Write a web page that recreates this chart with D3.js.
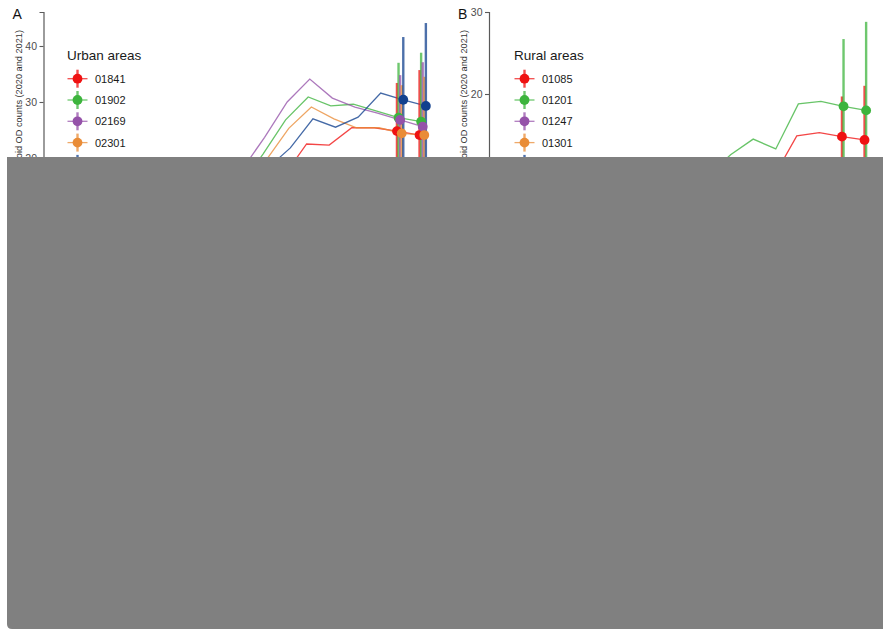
<!DOCTYPE html>
<html>
<head>
<meta charset="utf-8">
<script src="https://cdn.jsdelivr.net/npm/d3@7"></script>
<style>
  html, body { margin: 0; padding: 0; background: #ffffff; }
  svg { display: block; font-family: "Liberation Sans", Arial, Helvetica, sans-serif; }
</style>
</head>
<body>
<svg id="chart" width="883" height="629"></svg>
<script>
// Years shown on the time axis
const years = [2013, 2014, 2015, 2016, 2017, 2018, 2019, 2020, 2021];
// Years carrying an interval estimate
const intervalYears = [2020, 2021];

// Series colours (shared by both panels, in legend order)
const seriesColors = ["#ef1212", "#3db43d", "#9552a9", "#e98c37", "#11408e"];

// Panel A: urban areas
const urbanIds = ["01841", "01902", "02169", "02301", "02360"];
const urbanValues = [
  [11.0, 13.5, 16.8, 22.5, 22.3, 25.4, 25.4, 24.8, 24.1],
  [15.0, 20.7, 26.8, 30.9, 29.3, 29.6, 28.4, 27.2, 26.5],
  [17.9, 23.7, 30.0, 34.1, 30.7, 29.1, 28.0, 26.8, 25.6],
  [14.3, 19.6, 25.3, 29.1, 27.0, 25.4, 25.4, 24.4, 24.1],
  [12.0, 18.2, 21.8, 27.0, 25.5, 27.3, 31.6, 30.4, 29.3]
];
const urbanUpper = [
  [33.4, 35.7],
  [37.0, 38.8],
  [34.8, 37.1],
  [33.0, 34.5],
  [41.6, 44.1]
];
const urbanLower = [
  [16.2, 15.5],
  [17.5, 16.8],
  [18.6, 17.9],
  [15.8, 15.6],
  [19.2, 17.5]
];
const urbanTicks = [10, 20, 30, 40];

// Panel B: rural areas
const ruralIds = ["01085", "01201", "01247", "01301", "01370"];
const ruralValues = [
  [6.0, 7.0, 8.0, 9.0, 10.0, 14.9, 15.3, 14.8, 14.4],
  [8.5, 10.0, 12.6, 14.5, 13.3, 18.8, 19.1, 18.5, 18.0],
  [4.0, 5.0, 5.5, 6.0, 6.5, 7.0, 7.5, 8.0, 8.2],
  [5.0, 5.5, 6.0, 6.5, 7.0, 7.8, 8.5, 9.0, 9.3],
  [3.0, 3.5, 4.0, 4.5, 5.0, 5.5, 6.0, 6.5, 6.8]
];
const ruralUpper = [
  [19.7, 21.0],
  [26.7, 28.8],
  [11.0, 11.2],
  [11.5, 11.8],
  [10.0, 10.4]
];
const ruralLower = [
  [10.0, 9.5],
  [11.0, 10.5],
  [5.0, 5.2],
  [6.5, 6.8],
  [3.2, 3.4]
];
const ruralTicks = [10, 20, 30];

const yTitle = "Average monthly opioid OD counts (2020 and 2021)";

const svg = d3.select("#chart");
const font = "\"Liberation Sans\", Arial, Helvetica, sans-serif";

// Small horizontal offsets so groups at the same year do not overlap
const dodge = [-0.14, -0.07, 0, 0.07, 0.14];

const panels = [
  {
    tag: "A", legendTitle: "Urban areas", ids: urbanIds, values: urbanValues,
    upper: urbanUpper, lower: urbanLower, ticks: urbanTicks,
    dx: 0, axisX: 43.5, yDomain: [10, 46.07], yRange: [214, 12]
  },
  {
    tag: "B", legendTitle: "Rural areas", ids: ruralIds, values: ruralValues,
    upper: ruralUpper, lower: ruralLower, ticks: ruralTicks,
    dx: 445, axisX: 489, yDomain: [5, 30], yRange: [217, 12]
  }
];

panels.forEach(p => {
  const g = svg.append("g").attr("class", "panel panel-" + p.tag);

  const x = d3.scaleLinear().domain([2004.5, 2021.5]).range([50 + p.dx, 434 + p.dx]);
  const y = d3.scaleLinear().domain(p.yDomain).range(p.yRange);

  // y axis
  const axis = g.append("g")
    .attr("transform", `translate(${p.axisX},0)`)
    .call(d3.axisLeft(y).tickValues(p.ticks).tickSize(4).tickPadding(2.5).tickFormat(d3.format("d")));
  axis.select(".domain").attr("stroke", "#5a5a5a").attr("stroke-width", 1.2);
  axis.selectAll(".tick line").attr("stroke", "#5a5a5a").attr("stroke-width", 1.1);
  axis.selectAll(".tick text")
    .attr("fill", "#4d4d4d").style("font-size", "10.5px").style("font-family", font);

  // y axis title
  g.append("text")
    .attr("transform", `translate(${p.dx + 21.5},30) rotate(-90)`)
    .attr("text-anchor", "end")
    .attr("fill", "#333")
    .style("font-size", "9.2px")
    .style("font-family", font)
    .text(yTitle);

  // panel tag
  g.append("text")
    .attr("x", p.tag === "A" ? 12.5 : 458)
    .attr("y", 19.3)
    .attr("fill", "#111")
    .style("font-size", "14px")
    .style("font-family", font)
    .text(p.tag);

  const line = d3.line()
    .x(d => x(d.year))
    .y(d => y(d.v));

  // trend lines
  p.values.forEach((vals, i) => {
    const pts = years.map((yr, k) => ({ year: yr + dodge[i], v: vals[k] }));
    g.append("path")
      .datum(pts)
      .attr("d", line)
      .attr("fill", "none")
      .attr("stroke", seriesColors[i])
      .attr("stroke-opacity", 0.78)
      .attr("stroke-width", 1.3);
  });

  // interval bars
  p.values.forEach((vals, i) => {
    intervalYears.forEach((yr, k) => {
      g.append("line")
        .attr("x1", x(yr + dodge[i])).attr("x2", x(yr + dodge[i]))
        .attr("y1", y(p.lower[i][k])).attr("y2", y(p.upper[i][k]))
        .attr("stroke", seriesColors[i])
        .attr("stroke-opacity", 0.75)
        .attr("stroke-width", 2.4);
    });
  });

  // estimate points
  p.values.forEach((vals, i) => {
    intervalYears.forEach(yr => {
      const k = years.indexOf(yr);
      g.append("circle")
        .attr("cx", x(yr + dodge[i]))
        .attr("cy", y(vals[k]))
        .attr("r", 4.9)
        .attr("fill", seriesColors[i]);
    });
  });

  // legend
  const lx = p.tag === "A" ? 67 : 514;
  const lg = g.append("g").attr("class", "legend");
  lg.append("text")
    .attr("x", lx).attr("y", 60)
    .attr("fill", "#1a1a1a")
    .style("font-size", "13.5px")
    .style("font-family", font)
    .text(p.legendTitle);
  p.ids.forEach((id, i) => {
    const cy = 78.7 + i * 21.3;
    const cx = lx + 10.5;
    const key = lg.append("g");
    key.append("line")
      .attr("x1", cx - 10).attr("x2", cx + 10).attr("y1", cy).attr("y2", cy)
      .attr("stroke", seriesColors[i]).attr("stroke-opacity", 0.75).attr("stroke-width", 1.3);
    key.append("line")
      .attr("x1", cx).attr("x2", cx).attr("y1", cy - 9).attr("y2", cy + 9)
      .attr("stroke", seriesColors[i]).attr("stroke-opacity", 0.75).attr("stroke-width", 2.4);
    key.append("circle")
      .attr("cx", cx).attr("cy", cy).attr("r", 4.9)
      .attr("fill", seriesColors[i]);
    lg.append("text")
      .attr("x", lx + 28).attr("y", cy + 4)
      .attr("fill", "#1a1a1a")
      .style("font-size", "11px")
      .style("font-family", font)
      .text(id);
  });
});

// grey panel covering the lower part of the figure
const px0 = 7, py0 = 157, px1 = 883, py1 = 629, rad = 5;
svg.append("path")
  .attr("d", `M${px0},${py0} H${px1} V${py1} H${px0 + rad} Q${px0},${py1} ${px0},${py1 - rad} Z`)
  .attr("fill", "#808080");
</script>
</body>
</html>
